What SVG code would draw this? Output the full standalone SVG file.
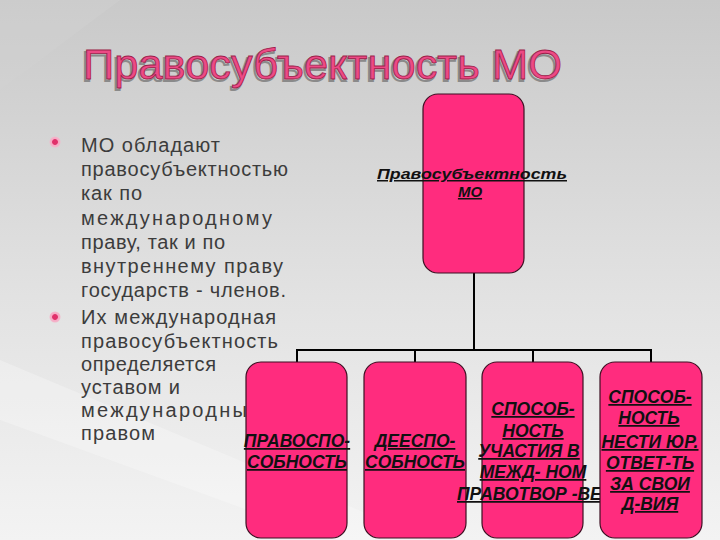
<svg xmlns="http://www.w3.org/2000/svg" width="720" height="540" viewBox="0 0 720 540">
  <defs>
    <linearGradient id="bg" x1="0" y1="0" x2="0" y2="1">
      <stop offset="0" stop-color="#c9c9c9"/>
      <stop offset="0.55" stop-color="#e2e2e2"/>
      <stop offset="1" stop-color="#f3f3f3"/>
    </linearGradient>
    <radialGradient id="bul" cx="0.5" cy="0.5" r="0.5">
      <stop offset="0" stop-color="#e0306a"/>
      <stop offset="0.45" stop-color="#e0306a"/>
      <stop offset="0.6" stop-color="#f7a8c4"/>
      <stop offset="1" stop-color="#f2b8cc"/>
    </radialGradient>
    <style>
      .box { fill: #ff2c7e; stroke: #3d0f22; stroke-width: 1.2; }
      .conn { stroke: #000; stroke-width: 2; fill: none; }
      .bt { font-family: "Liberation Sans", Arial, sans-serif; font-size: 20px; fill: #3c3c3c; }
      .lbl { font-family: "Liberation Sans", Arial, sans-serif; font-size: 17.5px; font-weight: bold; font-style: italic; fill: #111; text-decoration: underline; text-anchor: middle; }
      .top { font-size: 15px; }
      .title { font-family: "Liberation Sans", Arial, sans-serif; font-size: 42px; }
    </style>
  </defs>

  <rect x="0" y="0" width="720" height="540" fill="url(#bg)"/>
  <polygon points="0,360 0,420 330,540 430,540" fill="#ffffff" opacity="0.25"/>
  <polygon points="0,0 120,0 0,90" fill="#d2d2d2" opacity="0.4"/>

  <g id="title">
    <text class="title" x="81.5" y="80.5" textLength="479" lengthAdjust="spacingAndGlyphs" fill="none" stroke="#8a8a8a" stroke-width="2">Правосубъектность МО</text>
    <text class="title" x="83" y="79" textLength="479" lengthAdjust="spacingAndGlyphs" fill="#ec4a85" stroke="#9c1f4b" stroke-width="0.8">Правосубъектность МО</text>
  </g>

  <g id="bullets">
    <circle cx="55" cy="142" r="5.5" fill="url(#bul)"/>
    <circle cx="55" cy="317" r="5.5" fill="url(#bul)"/>
    <text class="bt" x="81" y="152" textLength="139">МО обладают</text>
    <text class="bt" x="81" y="176" textLength="207">правосубъектностью</text>
    <text class="bt" x="81" y="200" textLength="61">как по</text>
    <text class="bt" x="81" y="224.5" textLength="191">международному</text>
    <text class="bt" x="81" y="248.5" textLength="144">праву, так и по</text>
    <text class="bt" x="81" y="272.5" textLength="202">внутреннему праву</text>
    <text class="bt" x="81" y="297" textLength="205">государств - членов.</text>
    <text class="bt" x="81" y="324" textLength="195">Их международная</text>
    <text class="bt" x="81" y="347.5" textLength="197">правосубъектность</text>
    <text class="bt" x="81" y="370.5" textLength="135">определяется</text>
    <text class="bt" x="81" y="393.5" textLength="99">уставом и</text>
    <text class="bt" x="81" y="416.5" textLength="182">международным</text>
    <text class="bt" x="81" y="440" textLength="74">правом</text>
  </g>

  <g id="connectors">
    <line class="conn" x1="474" y1="273" x2="474" y2="350"/>
    <line class="conn" x1="296" y1="350" x2="652" y2="350"/>
    <line class="conn" x1="297" y1="349" x2="297" y2="362"/>
    <line class="conn" x1="415" y1="349" x2="415" y2="362"/>
    <line class="conn" x1="533" y1="349" x2="533" y2="362"/>
    <line class="conn" x1="651" y1="349" x2="651" y2="362"/>
  </g>

  <g id="node-root">
    <rect class="box" x="423" y="94" width="101" height="179" rx="15"/>
    <text class="lbl top" x="472" y="179" textLength="190" lengthAdjust="spacingAndGlyphs">Правосубъектность</text>
    <text class="lbl top" x="470" y="197"> МО</text>
  </g>

  <g id="node-pravosposobnost">
    <rect class="box" x="246" y="362" width="101" height="176" rx="15"/>
    <text class="lbl" x="297" y="447">ПРАВОСПО-</text>
    <text class="lbl" x="297" y="468">СОБНОСТЬ</text>
  </g>

  <g id="node-deesposobnost">
    <rect class="box" x="364" y="362" width="102" height="176" rx="15"/>
    <text class="lbl" x="415" y="447">ДЕЕСПО-</text>
    <text class="lbl" x="415" y="468">СОБНОСТЬ</text>
  </g>

  <g id="node-pravotvorchestvo">
    <rect class="box" x="482" y="362" width="101" height="176" rx="15"/>
    <text class="lbl" x="533" y="415">СПОСОБ-</text>
    <text class="lbl" x="533" y="437">НОСТЬ</text>
    <text class="lbl" x="529" y="457">УЧАСТИЯ В</text>
    <text class="lbl" x="533" y="478">МЕЖД- НОМ</text>
    <text class="lbl" x="457" y="500" style="text-anchor:start">ПРАВОТВОР -ВЕ</text>
  </g>

  <g id="node-otvetstvennost">
    <rect class="box" x="600" y="362" width="102" height="176" rx="15"/>
    <text class="lbl" x="650" y="403">СПОСОБ-</text>
    <text class="lbl" x="649" y="424">НОСТЬ</text>
    <text class="lbl" x="650" y="448">НЕСТИ ЮР.</text>
    <text class="lbl" x="650" y="469">ОТВЕТ-ТЬ</text>
    <text class="lbl" x="650" y="490">ЗА СВОИ</text>
    <text class="lbl" x="650" y="510">Д-ВИЯ</text>
  </g>
</svg>
